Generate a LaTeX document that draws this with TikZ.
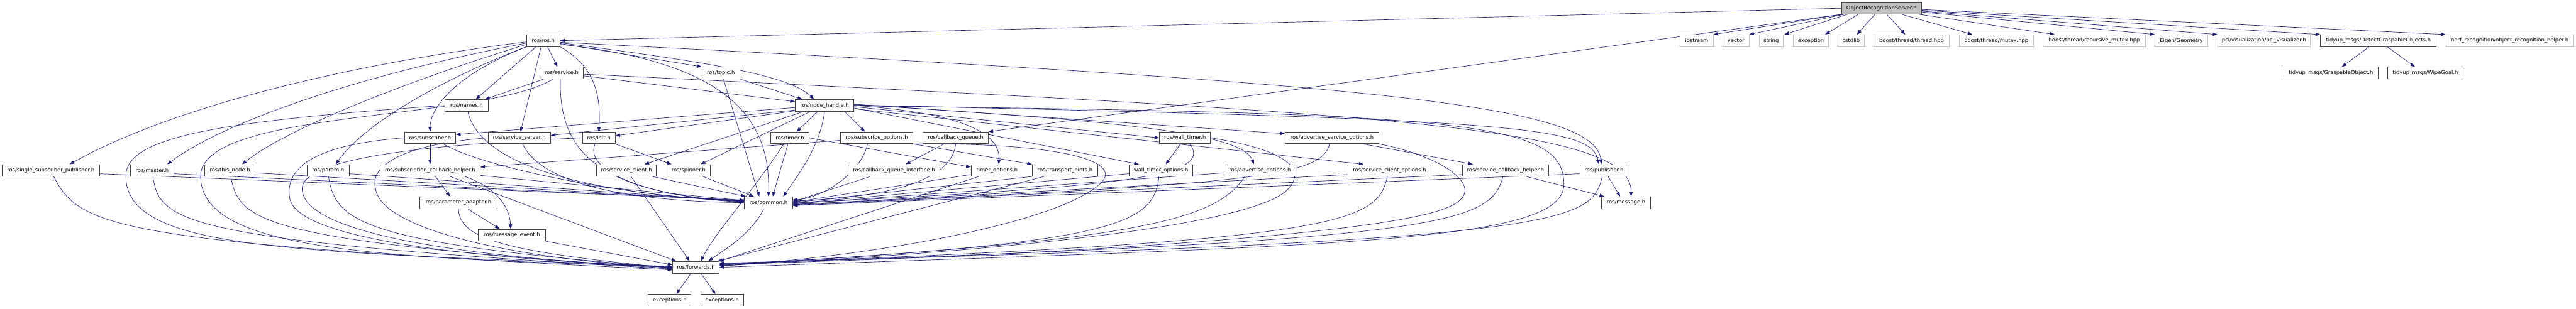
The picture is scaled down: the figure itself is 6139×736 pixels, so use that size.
\documentclass[tikz,border=0pt]{standalone}
\usepackage{fontspec}
\setmainfont{DejaVu Sans}
\usetikzlibrary{arrows.meta}
\definecolor{edgec}{HTML}{191970}
\definecolor{extc}{HTML}{BFBFBF}
\definecolor{boxc}{HTML}{404040}
\pgfdeclarelayer{bg}
\pgfsetlayers{bg,main}
\begin{document}
\begin{tikzpicture}[x=1pt,y=-1pt,
  every node/.style={font=\fontsize{12.6}{15}\selectfont, inner sep=0pt, minimum height=28pt},
  box/.style={draw=boxc, fill=white, line width=1.3pt},
  ext/.style={draw=extc, fill=white, line width=1.3pt},
  root/.style={draw=boxc, fill=extc, line width=1.3pt},
  e/.style={draw=edgec, line width=1pt, -{Triangle[length=11pt,width=8pt]}},
]
\useasboundingbox (0,0) rectangle (6139,736);
% row 0
\node[root,minimum width=190pt] (ors) at (4484,19.7) {ObjectRecognitionServer.h};
% row 1
\node[box,minimum width=79pt] (rosh) at (1294.5,97) {ros/ros.h};
\node[ext,minimum width=79pt] (iostream) at (4043.5,97) {iostream};
\node[ext,minimum width=62pt] (vector) at (4137,97) {vector};
\node[ext,minimum width=58pt] (string) at (4221,97) {string};
\node[ext,minimum width=84pt] (exception) at (4316,97) {exception};
\node[ext,minimum width=63pt] (cstdlib) at (4411.5,97) {cstdlib};
\node[ext,minimum width=179pt] (thr) at (4555.5,97) {boost/thread/thread.hpp};
\node[ext,minimum width=177pt] (mtx) at (4757.5,97) {boost/thread/mutex.hpp};
\node[ext,minimum width=244pt] (rmtx) at (4991,97) {boost/thread/recursive\_mutex.hpp};
\node[ext,minimum width=125pt] (eigen) at (5198.5,97) {Eigen/Geometry};
\node[ext,minimum width=221pt] (pcl) at (5395.5,97) {pcl/visualization/pcl\_visualizer.h};
\node[box,minimum width=276pt] (detect) at (5668,97) {tidyup\_msgs/DetectGraspableObjects.h};
\node[ext,minimum width=304pt] (narf) at (5981,97) {narf\_recognition/object\_recognition\_helper.h};
% row 2
\node[box,minimum width=103pt] (service) at (1338.5,174) {ros/service.h};
\node[box,minimum width=90pt] (topic) at (1718,174) {ros/topic.h};
\node[box,minimum width=226pt] (grasp) at (5555,174) {tidyup\_msgs/GraspableObject.h};
\node[box,minimum width=180pt] (wipe) at (5780,174) {tidyup\_msgs/WipeGoal.h};
% row 3
\node[box,minimum width=102pt] (names) at (1112,251.6) {ros/names.h};
\node[box,minimum width=140pt] (nh) at (1965,251.6) {ros/node\_handle.h};
% row 4
\node[box,minimum width=122pt] (subscriber) at (1025,329) {ros/subscriber.h};
\node[box,minimum width=149pt] (sserver) at (1237.5,329) {ros/service\_server.h};
\node[box,minimum width=78pt] (init) at (1427,329) {ros/init.h};
\node[box,minimum width=91pt] (timer) at (1882.5,329) {ros/timer.h};
\node[box,minimum width=173pt] (subopts) at (2089.5,329) {ros/subscribe\_options.h};
\node[box,minimum width=155pt] (cq) at (2277.5,329) {ros/callback\_queue.h};
\node[box,minimum width=122pt] (wtimer) at (2824,329) {ros/wall\_timer.h};
\node[box,minimum width=223pt] (aso) at (3174.5,329) {ros/advertise\_service\_options.h};
% row 5
\node[box,minimum width=232pt] (ssp) at (121,406.6) {ros/single\_subscriber\_publisher.h};
\node[box,minimum width=103pt] (master) at (362.5,406.6) {ros/master.h};
\node[box,minimum width=120pt] (thisnode) at (548,406.6) {ros/this\_node.h};
\node[box,minimum width=100pt] (param) at (782,406.6) {ros/param.h};
\node[box,minimum width=238pt] (sch) at (1025,406.6) {ros/subscription\_callback\_helper.h};
\node[box,minimum width=142pt] (sclient) at (1493,406.6) {ros/service\_client.h};
\node[box,minimum width=104pt] (spinner) at (1641,406.6) {ros/spinner.h};
\node[box,minimum width=219pt] (cqi) at (2130.5,406.6) {ros/callback\_queue\_interface.h};
\node[box,minimum width=124pt] (topts) at (2376,406.6) {timer\_options.h};
\node[box,minimum width=156pt] (thints) at (2538,406.6) {ros/transport\_hints.h};
\node[box,minimum width=152pt] (wto) at (2767,406.6) {wall\_timer\_options.h};
\node[box,minimum width=171pt] (aopts) at (3002.5,406.6) {ros/advertise\_options.h};
\node[box,minimum width=199pt] (sco) at (3311.5,406.6) {ros/service\_client\_options.h};
\node[box,minimum width=206pt] (scbh) at (3588,406.6) {ros/service\_callback\_helper.h};
\node[box,minimum width=115pt] (publisher) at (3822.5,406.6) {ros/publisher.h};
% row 6
\node[box,minimum width=183pt] (pa) at (1092.5,483.6) {ros/parameter\_adapter.h};
\node[box,minimum width=115pt] (common) at (1831.5,483.6) {ros/common.h};
\node[box,minimum width=118pt] (message) at (3875,483.6) {ros/message.h};
% row 7
\node[box,minimum width=160pt] (me) at (1220,561) {ros/message\_event.h};
% row 8
\node[box,minimum width=111pt] (fwd) at (1658.5,638) {ros/forwards.h};
% row 9
\node[box,minimum width=102pt] (exc1) at (1596,716) {exceptions.h};
\node[box,minimum width=102pt] (exc2) at (1721,716) {exceptions.h};

\begin{pgfonlayer}{bg}
\fill[white] (0,0) rectangle (6139,736);
% ObjectRecognitionServer.h
\draw[e] (ors.west) -- (rosh.east);
\draw[e] (ors.south west) -- (cq.north east);
\draw[e] ([xshift=2pt]ors.south west) -- (iostream.north east);
\draw[e] ([xshift=6pt]ors.south west) -- (vector.north east);
\draw[e] ([xshift=14pt]ors.south west) -- ([xshift=2pt]string.north east);
\draw[e] ([xshift=40pt]ors.south west) -- ([xshift=-9pt]exception.north east);
\draw[e] ([xshift=80pt]ors.south west) -- ([xshift=14pt]cstdlib.north);
\draw[e] ([xshift=108pt]ors.south west) -- ([xshift=-15pt]thr.north);
\draw[e] ([xshift=144pt]ors.south west) -- ([xshift=32pt]mtx.north west);
\draw[e] ([xshift=186pt]ors.south west) -- ([xshift=28pt]rmtx.north west);
\draw[e] ([yshift=-9pt]ors.east) -- (eigen.north west);
\draw[e] ([yshift=-7pt]ors.east) -- (pcl.north west);
\draw[e] ([yshift=-5pt]ors.east) -- (detect.north west);
\draw[e] ([yshift=-3pt]ors.east) -- (narf.north west);
\draw[e] ([xshift=-22pt]detect.south) -- ([xshift=26pt]grasp.north);
\draw[e] ([xshift=21pt]detect.south) -- ([xshift=-25pt]wipe.north);
% ros/ros.h
\draw[e] ([xshift=10pt]rosh.south) -- ([xshift=-10pt]service.north);
\draw[e] ([yshift=-7pt]rosh.east) -- (topic.north west);
\draw[e] ([xshift=-17pt]rosh.south) -- ([xshift=22pt]names.north);
\draw[e] (rosh.south west) .. controls (1080,180) and (1025,260) .. (subscriber.north);
\draw[e] ([xshift=-5pt]rosh.south) -- ([xshift=3pt]sserver.north);
\draw[e] (rosh.south east) .. controls (1420,160) and (1432,230) .. (init.north);
\draw[e] ([yshift=-5pt]rosh.east) .. controls (1700,150) and (1880,180) .. ([xshift=-25pt]nh.north);
\draw[e] ([yshift=-9pt]rosh.east) .. controls (1760,150) and (1835,300) .. (common.north);
\draw[e] ([yshift=-3pt]rosh.west) .. controls (850,150) and (420,250) .. ([xshift=45pt]ssp.north);
\draw[e] ([yshift=-6pt]rosh.west) .. controls (900,170) and (550,280) .. ([xshift=36pt]master.north);
\draw[e] ([yshift=-9pt]rosh.west) .. controls (950,200) and (680,310) .. ([xshift=29pt]thisnode.north);
\draw[e] (rosh.south west) .. controls (1100,170) and (880,280) .. ([xshift=18pt]param.north);
\draw[e] ([yshift=-4pt]rosh.east) .. controls (3300,200) and (3800,250) .. ([xshift=-6pt]publisher.north);
% ros/node_handle.h
\draw[e] ([yshift=-5pt]nh.west) -- ([yshift=8pt]subscriber.east);
\draw[e] ([yshift=-11pt]nh.west) -- ([yshift=6pt]sserver.east);
\draw[e] ([yshift=-13pt]nh.west) -- ([yshift=5pt]init.east);
\draw[e] ([xshift=-50pt]nh.south) -- ([xshift=43pt]sclient.north);
\draw[e] ([xshift=-34pt]nh.south) -- ([xshift=29pt]spinner.north);
\draw[e] ([xshift=-17pt]nh.south) -- ([xshift=16pt]timer.north);
\draw[e] (nh.south) .. controls (1955,350) and (1900,420) .. ([xshift=35pt]common.north);
\draw[e] ([xshift=48pt]nh.south) -- ([xshift=-28pt]subopts.north);
\draw[e] (nh.east) .. controls (2300,270) and (2385,320) .. ([xshift=4pt]topts.north);
\draw[e] ([yshift=-3pt]nh.east) -- (wtimer.west);
\draw[e] ([yshift=-6pt]nh.east) -- ([xshift=-53pt]wto.north);
\draw[e] ([yshift=2pt]nh.east) .. controls (2700,290) and (2960,320) .. ([xshift=-14pt]aopts.north);
\draw[e] ([yshift=3pt]nh.east) -- ([yshift=10pt]aso.west);
\draw[e] ([yshift=-8pt]nh.east) -- ([xshift=-62pt]sco.north);
\draw[e] ([yshift=1pt]nh.east) .. controls (3600,285) and (3790,300) .. ([xshift=-12pt]publisher.north);
\draw[e] ([yshift=-1pt]nh.east) .. controls (3500,270) and (3727,290) .. (3727,440) .. controls (3727,580) and (3200,585) .. (fwd.east);
% ros/service.h
\draw[e] ([xshift=-42pt]service.south) -- ([xshift=44pt]names.north);
\draw[e] ([yshift=-7pt]service.east) -- ([yshift=9pt]nh.west);
\draw[e] ([xshift=-3pt]service.south) .. controls (1330,380) and (1450,460) .. ([yshift=2pt]common.west);
\draw[e] ([xshift=-20pt]service.south) .. controls (1150,290) and (480,260) .. (478,420) .. controls (478,600) and (900,615) .. ([yshift=1pt]fwd.west);
\draw[e] ([yshift=-3pt]service.east) .. controls (3300,270) and (3890,300) .. ([xshift=12pt]message.north);
% ros/topic.h
\draw[e] ([xshift=6pt]topic.south) -- ([xshift=-22pt]common.north);
\draw[e] (topic.south east) -- ([xshift=-53pt]nh.north);
% ros/names.h
\draw[e] ([xshift=3pt]names.south) .. controls (1140,380) and (1350,460) .. ([yshift=4pt]common.west);
\draw[e] (names.west) .. controls (500,290) and (300,330) .. (300,420) .. controls (300,600) and (700,600) .. ([yshift=2pt]fwd.west);
% ros/subscriber.h
\draw[e] (subscriber.south) -- (sch.north);
\draw[e] ([xshift=32pt]subscriber.south) .. controls (1150,400) and (1500,470) .. ([yshift=3pt]common.west);
\draw[e] (subscriber.west) .. controls (750,345) and (680,400) .. (690,470) .. controls (700,580) and (1200,620) .. (fwd.west);
% ros/service_server.h
\draw[e] ([xshift=8pt]sserver.south) .. controls (1290,440) and (1500,480) .. (common.west);
\draw[e] (sserver.west) .. controls (950,345) and (880,400) .. (895,450) .. controls (910,560) and (1300,625) .. (fwd.west);
% ros/init.h
\draw[e] (init.south east) -- ([xshift=-41pt]spinner.north);
\draw[e] ([xshift=-9pt]init.south) .. controls (1390,410) and (1550,470) .. ([yshift=1pt]common.west);
\draw[e] (init.west) .. controls (1000,345) and (720,380) .. (720,450) .. controls (720,570) and (1200,620) .. (fwd.west);
% ros/timer.h
\draw[e] ([xshift=-5pt]timer.south) -- ([xshift=10pt]common.north);
\draw[e] ([xshift=-15pt]timer.south) .. controls (1800,450) and (1700,560) .. ([xshift=12pt]fwd.north);
\draw[e] (timer.east) -- ([yshift=8pt]topts.west);
% subscription_callback_helper
\draw[e] ([xshift=13pt]sch.south) -- ([xshift=-20pt]pa.north);
\draw[e] ([xshift=83pt]sch.south) .. controls (1190,450) and (1215,500) .. ([xshift=-3pt]me.north);
\draw[e] ([yshift=-12pt]sch.east) -- ([yshift=5pt]common.west);
\draw[e] ([xshift=48pt]sch.south) -- ([xshift=-47pt]fwd.north);
% parameter_adapter, message_event
\draw[e] ([xshift=22pt]pa.south) -- ([xshift=-29pt]me.north);
\draw[e] (pa.south) .. controls (1095,570) and (1200,600) .. ([yshift=-2pt]fwd.west);
\draw[e] (me.south east) -- ([yshift=6pt]fwd.west);
% common, forwards
\draw[e] ([xshift=-11pt]common.south) .. controls (1790,560) and (1720,600) .. ([xshift=30pt]fwd.north);
\draw[e] ([xshift=-12pt]fwd.south) -- ([xshift=16pt]exc1.north);
\draw[e] ([xshift=12pt]fwd.south) -- ([xshift=-16pt]exc2.north);
% service_client, spinner
\draw[e] ([xshift=11pt]sclient.south) -- ([xshift=-15pt]fwd.north);
\draw[e] ([xshift=62pt]sclient.south) -- ([xshift=4pt]common.north west);
\draw[e] ([xshift=35pt]spinner.south) -- ([xshift=23pt]common.north west);
% subscribe_options
\draw[e] (subopts.south east) -- (thints.north west);
\draw[e] ([yshift=-6pt]subopts.west) -- ([yshift=8pt]sch.east);
\draw[e] ([xshift=-22pt]subopts.south) .. controls (2050,420) and (1950,475) .. ([yshift=7pt]common.east);
\draw[e] (subopts.south east) .. controls (2500,340) and (2690,380) .. (2620,440) .. controls (2520,530) and (2100,610) .. ([yshift=3pt]fwd.east);
% callback_queue
\draw[e] ([xshift=-28pt]cq.south) -- ([xshift=28pt]cqi.north);
\draw[e] (cq.south) .. controls (2270,420) and (2150,470) .. ([yshift=4pt]common.east);
\draw[e] ([xshift=-57pt]cqi.south) -- ([yshift=2pt]common.east);
% timer_options, transport_hints
\draw[e] ([yshift=-10pt]topts.west) -- ([yshift=1pt]common.east);
\draw[e] ([xshift=-44pt]topts.south) -- (fwd.north east);
\draw[e] (thints.south west) -- (common.east);
\draw[e] ([xshift=-50pt]thints.south) -- ([xshift=-4pt]fwd.north east);
% wall_timer, wall_timer_options
\draw[e] ([xshift=-11pt]wtimer.south) -- ([xshift=11pt]wto.north);
\draw[e] ([xshift=12pt]wtimer.south) .. controls (2890,420) and (2700,445) .. ([yshift=-1pt]common.east);
\draw[e] (wtimer.east) .. controls (3050,355) and (3130,400) .. (3060,460) .. controls (2950,540) and (2400,600) .. ([yshift=4pt]fwd.east);
\draw[e] ([yshift=-8pt]wto.west) -- ([yshift=-2pt]common.east);
\draw[e] ([xshift=-5pt]wto.south) .. controls (2750,540) and (2650,580) .. ([yshift=5pt]fwd.east);
% advertise_options
\draw[e] ([yshift=-6pt]aopts.west) -- ([yshift=-3pt]common.east);
\draw[e] ([xshift=-36pt]aopts.south) .. controls (2900,520) and (2750,575) .. ([yshift=6pt]fwd.east);
% advertise_service_options
\draw[e] ([xshift=75pt]aso.south) -- ([xshift=-78pt]scbh.north);
\draw[e] ([xshift=-6pt]aso.south) .. controls (3150,420) and (3000,440) .. ([yshift=-4pt]common.east);
\draw[e] (aso.south east) .. controls (3430,370) and (3560,450) .. (3450,495) .. controls (3300,560) and (2500,610) .. ([yshift=7pt]fwd.east);
% service_client_options
\draw[e] ([yshift=-10pt]sco.west) -- ([yshift=-5pt]common.east);
\draw[e] ([xshift=-5pt]sco.south) .. controls (3280,530) and (3220,575) .. ([yshift=8pt]fwd.east);
% service_callback_helper
\draw[e] ([xshift=50pt]scbh.south) -- ([xshift=-52pt]message.north);
\draw[e] ([yshift=-10pt]scbh.west) -- ([yshift=-6pt]common.east);
\draw[e] ([xshift=-6pt]scbh.south) .. controls (3550,530) and (3480,575) .. ([yshift=9pt]fwd.east);
% publisher
\draw[e] ([xshift=10pt]publisher.south) -- ([xshift=-14pt]message.north);
\draw[e] ([yshift=-8pt]publisher.west) -- ([yshift=-7pt]common.east);
\draw[e] ([xshift=-4pt]publisher.south) .. controls (3790,530) and (3760,575) .. ([yshift=10pt]fwd.east);
% single_subscriber_publisher, master, this_node, param
\draw[e] ([yshift=-8pt]ssp.east) -- ([yshift=6pt]common.west);
\draw[e] ([xshift=7pt]ssp.south) .. controls (190,540) and (260,580) .. ([yshift=-6pt]fwd.west);
\draw[e] ([yshift=-8pt]master.east) -- ([yshift=5pt]common.west);
\draw[e] ([xshift=2pt]master.south) .. controls (380,530) and (430,575) .. ([yshift=-4pt]fwd.west);
\draw[e] ([yshift=-6pt]thisnode.east) -- ([yshift=4pt]common.west);
\draw[e] ([xshift=2pt]thisnode.south) .. controls (570,530) and (620,575) .. ([yshift=-3pt]fwd.west);
\draw[e] ([yshift=-8pt]param.east) -- ([yshift=3pt]common.west);
\draw[e] ([xshift=1pt]param.south) .. controls (800,530) and (860,580) .. ([yshift=-1pt]fwd.west);
\end{pgfonlayer}
\end{tikzpicture}
\end{document}
